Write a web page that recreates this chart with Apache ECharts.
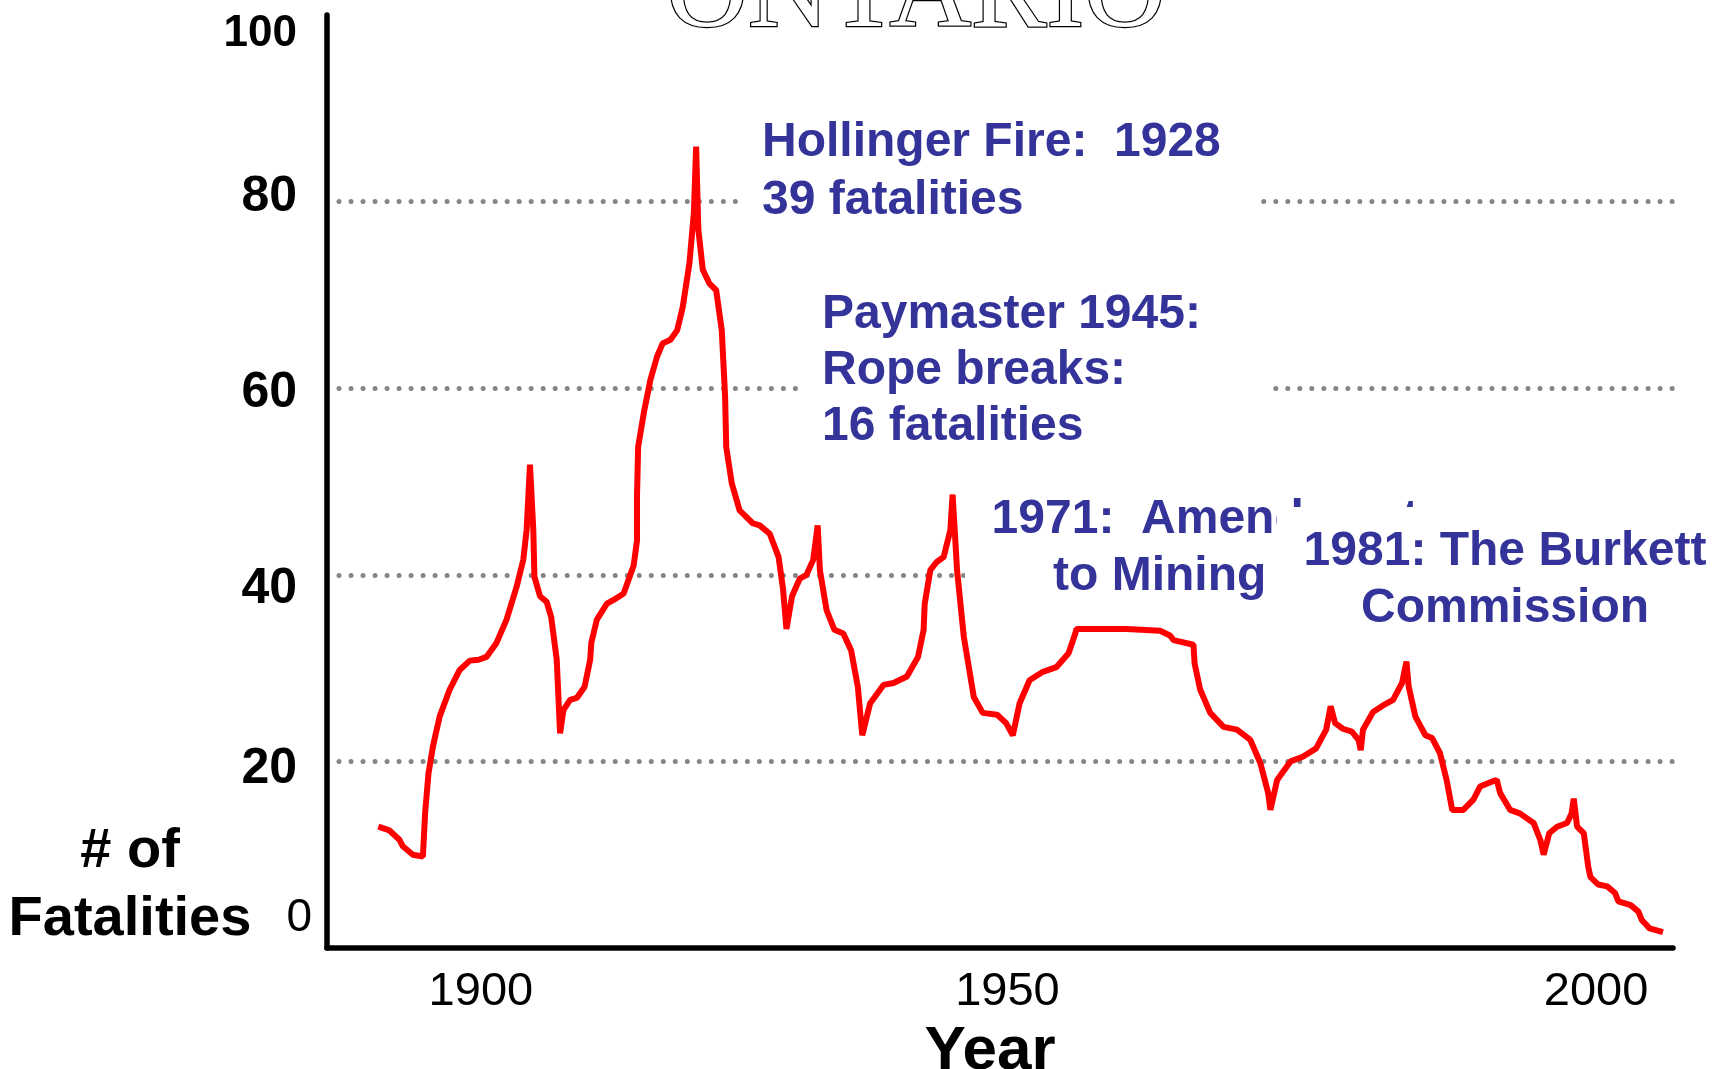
<!DOCTYPE html>
<html>
<head>
<meta charset="utf-8">
<script src="https://cdn.jsdelivr.net/npm/echarts@6/dist/echarts.min.js"></script>
<style>
  html, body { margin: 0; padding: 0; background: #ffffff; }
  #chart { width: 1728px; height: 1069px; }
</style>
</head>
<body>
<div id="chart"></div>
<script>
// ---- data ----
const years = [1890.8, 1891.8, 1892.7, 1893.0, 1893.9, 1894.8, 1895.0, 1895.3, 1895.7, 1896.3,
  1897.2, 1898.1, 1899.0, 1899.8, 1900.5, 1901.4, 1902.3, 1903.2, 1903.8, 1904.1,
  1904.4, 1904.7, 1904.8, 1905.3, 1905.9, 1906.3, 1906.8, 1907.1, 1907.4, 1908.0,
  1908.6, 1909.3, 1909.8, 1909.9, 1910.4, 1911.3, 1911.9, 1912.8, 1913.7, 1914.0,
  1914.0, 1914.1, 1914.6, 1915.2, 1915.8, 1916.3, 1917.0, 1917.6, 1918.1, 1918.7,
  1919.1, 1919.3, 1919.5, 1919.9, 1920.5, 1921.1, 1921.6, 1921.9, 1922.0, 1922.5,
  1923.2, 1924.4, 1925.0, 1925.9, 1926.7, 1927.1, 1927.4, 1927.9, 1928.6, 1929.2,
  1929.8, 1930.2, 1930.4, 1931.0, 1931.7, 1932.5, 1933.2, 1933.8, 1934.2, 1934.9,
  1936.1, 1937.0, 1938.2, 1939.2, 1939.7, 1939.8, 1940.3, 1940.9, 1941.5, 1942.1,
  1942.3, 1942.7, 1943.3, 1944.2, 1945.0, 1946.3, 1947.1, 1947.7, 1948.3, 1949.2,
  1950.4, 1951.6, 1952.7, 1953.3, 1953.4, 1957.9, 1960.9, 1961.8, 1962.1, 1963.9,
  1964.0, 1964.5, 1965.4, 1966.6, 1967.8, 1969.0, 1969.9, 1970.6, 1970.8, 1971.4,
  1972.6, 1973.7, 1974.9, 1975.8, 1976.2, 1976.6, 1977.3, 1978.1, 1978.7, 1978.9,
  1979.1, 1980.0, 1980.9, 1981.8, 1982.6, 1983.0, 1983.2, 1983.8, 1984.7, 1985.3,
  1986.0, 1986.6, 1987.1, 1988.1, 1989.0, 1989.6, 1990.8, 1991.1, 1991.4, 1992.3,
  1993.2, 1994.4, 1995.0, 1995.3, 1995.8, 1996.5, 1997.4, 1997.8, 1998.0, 1998.3,
  1998.9, 1999.3, 1999.5, 2000.2, 2001.0, 2001.7, 2002.0, 2003.1, 2003.8, 2004.1,
  2004.8, 2006.0];

const fatalities = [13.0, 12.6, 11.6, 10.9, 10.0, 9.8, 14.5, 18.7, 21.6, 24.8,
  27.7, 29.8, 30.8, 30.9, 31.2, 32.7, 35.2, 38.7, 41.6, 44.8,
  51.8, 44.8, 39.8, 37.7, 37.1, 35.5, 30.9, 23.0, 25.5, 26.6,
  26.8, 28.0, 30.9, 32.7, 35.2, 36.9, 37.3, 38.0, 41.0, 43.7,
  48.4, 53.7, 57.3, 60.9, 63.4, 64.8, 65.2, 66.2, 68.7, 73.4,
  78.8, 85.9, 77.0, 72.7, 71.2, 70.5, 66.2, 59.1, 53.7, 49.8,
  46.9, 45.5, 45.3, 44.4, 41.9, 38.4, 34.2, 37.7, 39.6, 40.0,
  41.6, 45.3, 40.5, 36.2, 34.1, 33.7, 31.9, 28.0, 22.8, 26.2,
  28.2, 28.4, 29.1, 31.2, 34.1, 36.9, 40.5, 41.4, 41.9, 44.8,
  48.6, 40.5, 33.4, 26.9, 25.2, 25.0, 24.1, 22.8, 26.2, 28.7,
  29.6, 30.1, 31.6, 33.7, 34.2, 34.2, 34.0, 33.5, 33.0, 32.5,
  30.5, 27.7, 25.2, 23.7, 23.4, 22.3, 19.8, 16.6, 14.8, 18.0,
  20.0, 20.5, 21.4, 23.4, 25.9, 24.1, 23.5, 23.2, 22.3, 21.2,
  23.4, 25.3, 26.0, 26.6, 28.4, 30.7, 28.0, 24.8, 22.8, 22.5,
  20.9, 18.0, 14.8, 14.8, 15.9, 17.3, 17.9, 18.0, 16.6, 14.8,
  14.4, 13.4, 11.6, 10.0, 12.3, 13.0, 13.4, 14.4, 16.0, 13.0,
  12.3, 8.7, 7.6, 6.8, 6.6, 5.9, 5.0, 4.6, 3.9, 3.0,
  2.1, 1.7];

const xTickLabels = [1900, 1950, 2000];
const yTickLabels = [0, 20, 40, 60, 80, 100];

const titleText = 'ONTARIO';
const yName = '# of\nFatalities';
const xName = 'Year';
const noteHollinger = 'Hollinger Fire:  1928\n39 fatalities';
const notePaymaster = 'Paymaster 1945:\nRope breaks:\n16 fatalities';
const note1971 = '1971:  Amendment\nto Mining Act';
const note1981 = '1981: The Burkett\nCommission';

// ---- chart ----
const seriesData = years.map((y, i) => [y, fatalities[i]]);
const chart = echarts.init(document.getElementById('chart'), null, { renderer: 'canvas' });

const SANS = '"Liberation Sans", Arial, Helvetica, sans-serif';
const NOTE_COLOR = '#333399';
const yLabelStyle = (pad) => ({ fontFamily: SANS, fontWeight: 'bold', fontSize: 50, color: '#000', padding: pad });

chart.setOption({
  animation: false,
  backgroundColor: '#ffffff',
  grid: { left: 327, right: 55, top: 15, bottom: 121, containLabel: false, outerBoundsMode: 'none' },
  xAxis: {
    type: 'value',
    min: 1886.2,
    max: 2006.9,
    name: xName,
    nameLocation: 'middle',
    nameGap: 58,
    nameTextStyle: { fontFamily: SANS, fontSize: 62, fontWeight: 'bold', color: '#000', padding: [0, 20, 0, 0] },
    axisLine: { show: true, onZero: false, lineStyle: { color: '#000', width: 5.5 } },
    axisTick: { show: false },
    splitLine: { show: false },
    axisLabel: {
      customValues: xTickLabels,
      margin: 21,
      fontFamily: SANS,
      fontSize: 47,
      color: '#000',
      formatter: v => v === 1950 ? '{s|1950}' : String(v),
      rich: { s: { fontFamily: SANS, fontSize: 47, color: '#000', padding: [0, 62, 0, 0] } }
    }
  },
  yAxis: {
    type: 'value',
    min: yTickLabels[0],
    max: yTickLabels[yTickLabels.length - 1],
    interval: 20,
    axisLine: { show: true, onZero: false, lineStyle: { color: '#000', width: 5.5 } },
    axisTick: { show: false },
    splitLine: {
      show: true,
      showMinLine: false,
      showMaxLine: false,
      lineStyle: { color: '#858585', width: 5, type: [0.01, 12], cap: 'round' }
    },
    axisLabel: {
      margin: 15,
      formatter: v => '{v' + v + '|' + v + '}',
      rich: {
        v0: { fontFamily: SANS, fontWeight: 'normal', fontSize: 46, color: '#000', padding: [0, 0, 60, 0] },
        v20: yLabelStyle([16, 15, 0, 0]),
        v40: yLabelStyle([28, 15, 0, 0]),
        v60: yLabelStyle([10, 15, 0, 0]),
        v80: yLabelStyle([0, 15, 8, 0]),
        v100: { fontFamily: SANS, fontWeight: 'bold', fontSize: 44, color: '#000', padding: [38, 15, 0, 0] }
      }
    }
  },
  graphic: [
    { type: 'text', x: 916, y: 53, z: 2, style: {
        text: titleText, font: '113px "Liberation Serif", "DejaVu Serif", serif',
        fill: '#ffffff', stroke: '#000000', lineWidth: 2.5,
        align: 'center', textAlign: 'center', verticalAlign: 'bottom', textVerticalAlign: 'bottom',
        shadowColor: 'rgba(0,0,0,0.25)', shadowBlur: 6, shadowOffsetY: 6 } },
    { type: 'text', x: 130, y: 818, z: 2, style: {
        text: yName, font: 'bold 56px ' + SANS, fill: '#000', lineHeight: 68,
        align: 'center', textAlign: 'center' } },
    // white backing boxes of the annotation text frames (hide the gridlines)
    { type: 'rect', z: 1, shape: { x: 740, y: 100, width: 518, height: 145 }, style: { fill: '#ffffff' } },
    { type: 'rect', z: 1, shape: { x: 799, y: 270, width: 474, height: 195 }, style: { fill: '#ffffff' } },
    { type: 'rect', z: 1, shape: { x: 965, y: 480, width: 325, height: 132 }, style: { fill: '#ffffff' } },
    { type: 'text', x: 762, y: 114, z: 2, style: {
        text: noteHollinger, font: 'bold 48px ' + SANS, fill: NOTE_COLOR, lineHeight: 58 } },
    { type: 'text', x: 822, y: 287, z: 2, style: {
        text: notePaymaster, font: 'bold 48px ' + SANS, fill: NOTE_COLOR, lineHeight: 56 } },
    { type: 'text', x: 1205, y: 491, z: 2, style: {
        text: note1971, font: 'bold 48px ' + SANS, fill: NOTE_COLOR, lineHeight: 57,
        align: 'center', textAlign: 'center' } },
    { type: 'rect', z: 3, shape: { x: 1277, y: 507, width: 451, height: 141 }, style: { fill: '#ffffff' } },
    { type: 'text', x: 1505, y: 523, z: 4, style: {
        text: note1981, font: 'bold 48px ' + SANS, fill: NOTE_COLOR, lineHeight: 57,
        align: 'center', textAlign: 'center' } }
  ],
  series: [{
    type: 'line',
    z: 10,
    data: seriesData,
    showSymbol: false,
    symbol: 'none',
    smooth: false,
    lineStyle: { color: '#ff0000', width: 6, cap: 'butt', join: 'bevel' }
  }]
});
</script>
</body>
</html>
